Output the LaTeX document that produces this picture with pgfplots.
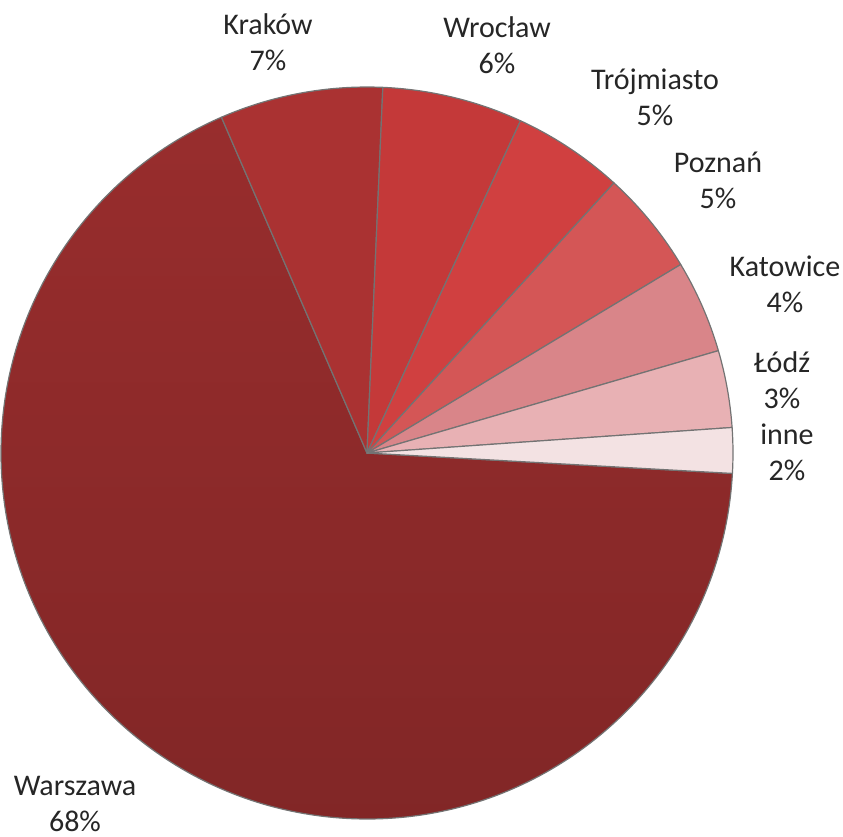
\documentclass[border=0pt]{standalone}
\usepackage{fontspec}
\setmainfont{Carlito}
\usepackage{pgfplots}
\usepackage{pgfplotstable}
\pgfplotsset{compat=1.18}

\definecolor{cWar}{HTML}{982D2D}
\definecolor{cKra}{HTML}{AA3232}
\definecolor{cWro}{HTML}{C43939}
\definecolor{cTro}{HTML}{D04040}
\definecolor{cPoz}{HTML}{D45656}
\definecolor{cKat}{HTML}{D98589}
\definecolor{cLod}{HTML}{E8B1B4}
\definecolor{cInn}{HTML}{F3E2E3}
\definecolor{lbltext}{HTML}{262626}

\tikzset{
  lbl/.style={align=center, text=lbltext, font=\fontsize{15}{18}\selectfont},
  wedge/.style={draw=black!55, line width=0.6pt, line join=round},
}

% share of each city (%), label position (px from bottom-left), colour, darkening at the bottom
\pgfplotstableread[col sep=comma]{
name,value,lx,ly,col,dk
Warszawa,67.6,75,33,cWar,85
Kraków,7.2,268,795,cKra,100
Wrocław,6.2,497,792,cWro,100
Trójmiasto,4.9,655,740,cTro,100
Poznań,4.6,718,657,cPoz,100
Katowice,4.1,785,553,cKat,100
Łódź,3.4,782,457,cLod,100
inne,2.0,787,385,cInn,100
}\piedata

\begin{document}
\begin{tikzpicture}
\begin{axis}[
    hide axis,
    scale only axis,
    x=0.5pt, y=0.5pt,
    xmin=0, xmax=843,
    ymin=0, ymax=837,
    clip=false,
]
\coordinate (bl) at (axis cs:0,0);
\coordinate (tr) at (axis cs:843,837);

% slices go clockwise, starting just below 3 o'clock
\pgfmathsetmacro\cur{-3.2}
\pgfplotsforeachungrouped \i in {0,...,7}{%
  \pgfplotstablegetelem{\i}{value}\of\piedata \let\v\pgfplotsretval
  \pgfplotstablegetelem{\i}{name}\of\piedata \let\nm\pgfplotsretval
  \pgfplotstablegetelem{\i}{lx}\of\piedata \let\lx\pgfplotsretval
  \pgfplotstablegetelem{\i}{ly}\of\piedata \let\ly\pgfplotsretval
  \pgfplotstablegetelem{\i}{col}\of\piedata \let\cl\pgfplotsretval
  \pgfplotstablegetelem{\i}{dk}\of\piedata \let\dk\pgfplotsretval
  \pgfmathsetmacro\nxt{\cur-3.6*\v}
  \pgfmathtruncatemacro\pct{round(\v)}
  \edef\cmd{%
    \noexpand\path[wedge, top color=\cl, bottom color=\cl!\dk!black]
      (axis cs:367,384) -- ++(\cur:183pt)
      arc[start angle=\cur, end angle=\nxt, radius=183pt] -- cycle;
    \noexpand\node[lbl] at (axis cs:\lx,\ly) {\nm\noexpand\\\pct\noexpand\%};
  }%
  \cmd
  \global\let\cur\nxt
}
\end{axis}
\pgfresetboundingbox
\useasboundingbox (bl) rectangle (tr);
\end{tikzpicture}
\end{document}
